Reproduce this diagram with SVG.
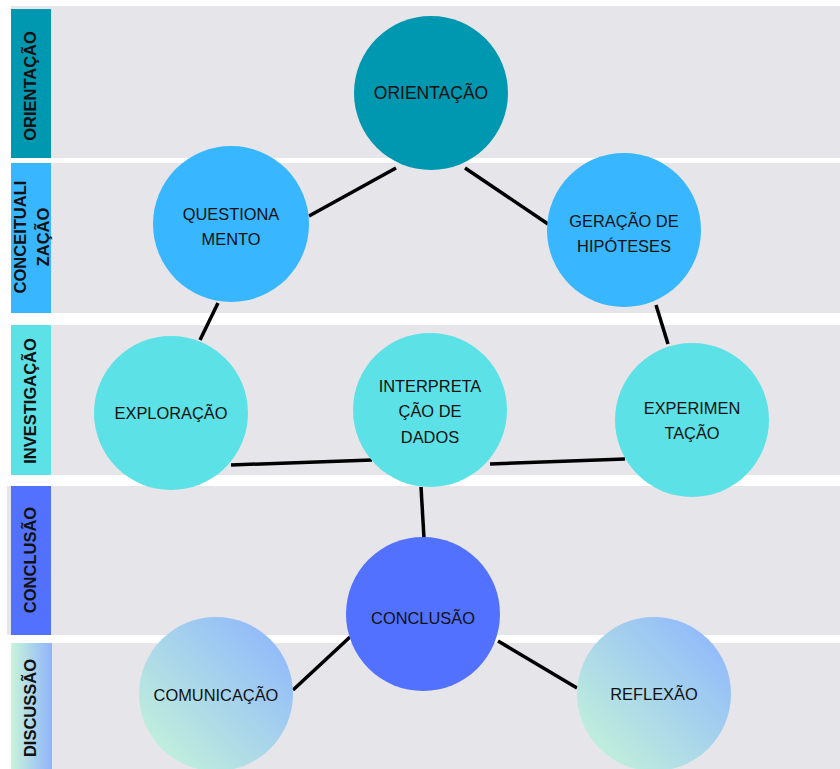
<svg xmlns="http://www.w3.org/2000/svg" width="840" height="769" viewBox="0 0 840 769">
  <defs>
    <linearGradient id="gradDisc" x1="0" y1="1" x2="1" y2="0">
      <stop offset="0" stop-color="#c8f8d6"/>
      <stop offset="1" stop-color="#8ab2ff"/>
    </linearGradient>
    <linearGradient id="gradDiscBar" x1="0" y1="0" x2="1" y2="0">
      <stop offset="0" stop-color="#c8f5da"/>
      <stop offset="1" stop-color="#90b4fb"/>
    </linearGradient>
    <style>
      .band { fill: #e6e5ea; }
      .label { font-family: "Liberation Sans", Arial, sans-serif; font-weight: bold; font-size: 16.5px; fill: #111; text-anchor: middle; dominant-baseline: central; }
      .node text { font-family: "Liberation Sans", Arial, sans-serif; font-size: 16.4px; fill: #111; text-anchor: middle; dominant-baseline: central; }
      .conn line { stroke: #000; stroke-width: 3.5; stroke-linecap: butt; }
      .c-ori { fill: #0097b0; }
      .c-con { fill: #38b6ff; }
      .c-inv { fill: #5ce1e6; }
      .c-clu { fill: #5271ff; }
      .c-dis { fill: url(#gradDisc); }
    </style>
  </defs>

  <rect width="840" height="769" fill="#ffffff"/>

  <!-- phase bands -->
  <g id="bands">
    <rect class="band" x="11" y="6" width="829" height="152"/>
    <rect class="band" x="11" y="163" width="829" height="150"/>
    <rect class="band" x="11" y="325" width="829" height="150"/>
    <rect class="band" x="7" y="486" width="833" height="149"/>
    <rect class="band" x="11" y="643" width="829" height="126"/>
  </g>

  <!-- phase labels -->
  <g id="phase-orientacao">
    <rect x="11" y="9" width="40" height="149" fill="#0097b0"/>
    <text class="label" transform="translate(30,86) rotate(-90)">ORIENTAÇÃO</text>
  </g>
  <g id="phase-conceitualizacao">
    <rect x="11" y="163" width="40" height="150" fill="#38b6ff"/>
    <text class="label" transform="translate(20,237) rotate(-90)">CONCEITUALI</text>
    <text class="label" transform="translate(43,237) rotate(-90)">ZAÇÃO</text>
  </g>
  <g id="phase-investigacao">
    <rect x="11" y="325" width="40" height="150" fill="#5ce1e6"/>
    <text class="label" transform="translate(30,401) rotate(-90)">INVESTIGAÇÃO</text>
  </g>
  <g id="phase-conclusao">
    <rect x="11" y="486" width="40" height="149" fill="#5271ff"/>
    <text class="label" transform="translate(30,560) rotate(-90)">CONCLUSÃO</text>
  </g>
  <g id="phase-discussao">
    <rect x="11" y="643" width="41" height="126" fill="url(#gradDiscBar)"/>
    <text class="label" transform="translate(30,708) rotate(-90)">DISCUSSÃO</text>
  </g>

  <!-- connectors -->
  <g id="connectors" class="conn">
    <line x1="396" y1="168" x2="309" y2="216"/>
    <line x1="465" y1="168" x2="548" y2="224"/>
    <line x1="218" y1="303" x2="200" y2="340"/>
    <line x1="656" y1="305" x2="668" y2="344"/>
    <line x1="231" y1="465" x2="372" y2="460"/>
    <line x1="490" y1="464" x2="625" y2="459"/>
    <line x1="421" y1="487" x2="424" y2="538"/>
    <line x1="350" y1="637" x2="293" y2="690"/>
    <line x1="498" y1="641" x2="577" y2="688"/>
  </g>

  <!-- nodes -->
  <g id="node-orientacao" class="node">
    <circle class="c-ori" cx="431" cy="93" r="77"/>
    <text x="431" y="93" style="font-size:17.5px">ORIENTAÇÃO</text>
  </g>
  <g id="node-questionamento" class="node">
    <circle class="c-con" cx="231" cy="224" r="78"/>
    <text x="231" y="214">QUESTIONA</text>
    <text x="231" y="239">MENTO</text>
  </g>
  <g id="node-hipoteses" class="node">
    <circle class="c-con" cx="624" cy="230" r="77"/>
    <text x="624" y="221">GERAÇÃO DE</text>
    <text x="624" y="246">HIPÓTESES</text>
  </g>
  <g id="node-exploracao" class="node">
    <circle class="c-inv" cx="171" cy="413" r="77"/>
    <text x="171" y="413">EXPLORAÇÃO</text>
  </g>
  <g id="node-interpretacao" class="node">
    <circle class="c-inv" cx="430" cy="410" r="77"/>
    <text x="430" y="386">INTERPRETA</text>
    <text x="430" y="411">ÇÃO DE</text>
    <text x="430" y="437">DADOS</text>
  </g>
  <g id="node-experimentacao" class="node">
    <circle class="c-inv" cx="692" cy="420" r="77"/>
    <text x="692" y="408">EXPERIMEN</text>
    <text x="692" y="433">TAÇÃO</text>
  </g>
  <g id="node-conclusao" class="node">
    <circle class="c-clu" cx="423" cy="614" r="77"/>
    <text x="423" y="618">CONCLUSÃO</text>
  </g>
  <g id="node-comunicacao" class="node">
    <circle class="c-dis" cx="216" cy="694" r="77"/>
    <text x="216" y="695">COMUNICAÇÃO</text>
  </g>
  <g id="node-reflexao" class="node">
    <circle class="c-dis" cx="654" cy="694" r="77"/>
    <text x="654" y="694">REFLEXÃO</text>
  </g>
</svg>
